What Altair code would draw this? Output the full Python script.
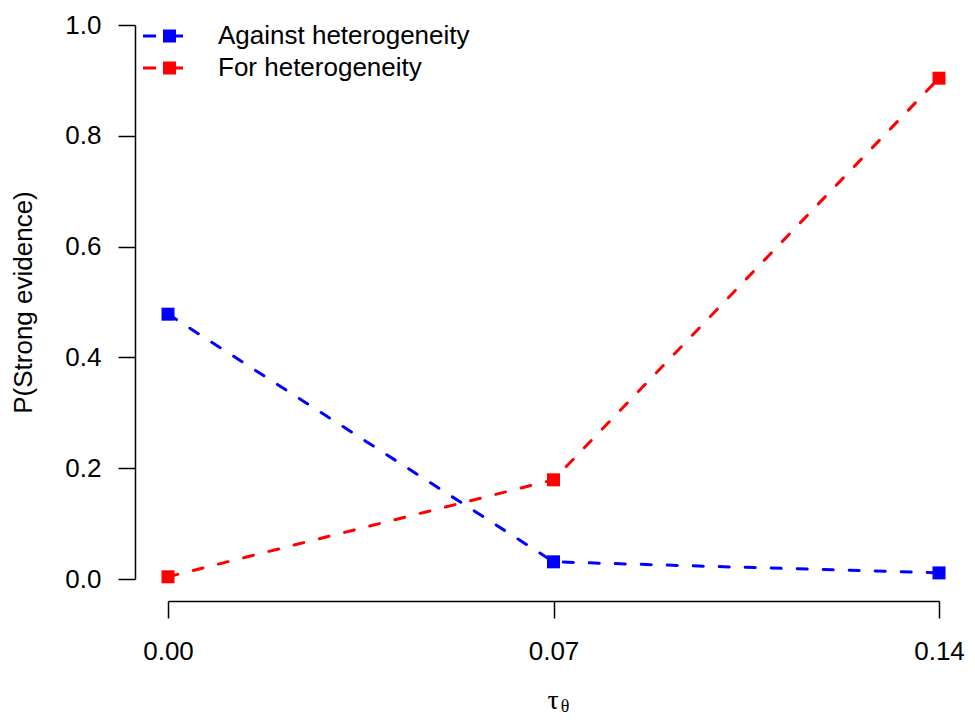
import altair as alt
import pandas as pd

tau = [0.00, 0.07, 0.14]
against = [0.478, 0.031, 0.011]
favour = [0.004, 0.179, 0.904]
series = ["Against heterogeneity", "For heterogeneity"]
colors = ["#0000FF", "#FF0000"]
y_ticks = [0.0, 0.2, 0.4, 0.6, 0.8, 1.0]

rows = []
for t, a, f in zip(tau, against, favour):
    rows.append({"tau": t, "p": a, "series": series[0]})
    rows.append({"tau": t, "p": f, "series": series[1]})
df = pd.DataFrame(rows)

FONT = "Liberation Sans"
symbol_path = ("M-1,-0.07H-0.35V0.07H-1Z "
               "M0,-0.325H0.65V0.325H0Z "
               "M0.65,-0.07H1V0.07H0.65Z")

base = alt.Chart(df).encode(
    x=alt.X("tau:Q",
            scale=alt.Scale(domain=[0, 0.14], nice=False, zero=False),
            axis=alt.Axis(values=tau, format=".2f", offset=22, tickSize=17,
                          labelPadding=20, labelFlush=False, title=None,
                          grid=False)),
    y=alt.Y("p:Q",
            scale=alt.Scale(domain=[0, 1], nice=False),
            axis=alt.Axis(values=y_ticks, format=".1f", offset=33, tickSize=17,
                          labelPadding=17, title="P(Strong evidence)",
                          titlePadding=28, grid=False)),
    color=alt.Color("series:N",
                    scale=alt.Scale(domain=series, range=colors),
                    legend=alt.Legend(orient="none", legendX=-25, legendY=-5,
                                      title=None, symbolType=symbol_path,
                                      symbolSize=1600, symbolStrokeWidth=0,
                                      symbolOpacity=1, labelLimit=0,
                                      labelFontSize=26, labelFont=FONT,
                                      labelColor="black", labelOffset=35,
                                      rowPadding=0, clipHeight=32, padding=0)),
)

lines = base.mark_line(strokeDash=[10, 16], strokeWidth=3, strokeCap="round")
points = base.mark_square(size=169, opacity=1)

tau_lbl = alt.Chart(pd.DataFrame({"t": ["τ"]})).mark_text(
    font="Liberation Serif", fontSize=28, align="center", baseline="alphabetic",
    color="black").encode(x=alt.value(385), y=alt.value(684), text="t:N")
theta_lbl = alt.Chart(pd.DataFrame({"t": ["θ"]})).mark_text(
    font="Liberation Serif", fontSize=18, align="center", baseline="alphabetic",
    color="black").encode(x=alt.value(397), y=alt.value(687), text="t:N")

chart = alt.layer(lines, points, tau_lbl, theta_lbl).properties(
    width=771, height=554,
    autosize=alt.AutoSizeParams(type="none"),
    padding={"left": 160, "top": 17, "right": 28, "bottom": 138},
).configure_view(stroke=None).configure_axis(
    labelFont=FONT, titleFont=FONT, labelFontSize=26, titleFontSize=26,
    labelColor="black", titleColor="black", titleFontWeight="normal",
    domainColor="black", tickColor="black", domainWidth=1.5, tickWidth=1.5,
)

chart.save("out.html", embed_options={"renderer": "svg", "actions": False})
